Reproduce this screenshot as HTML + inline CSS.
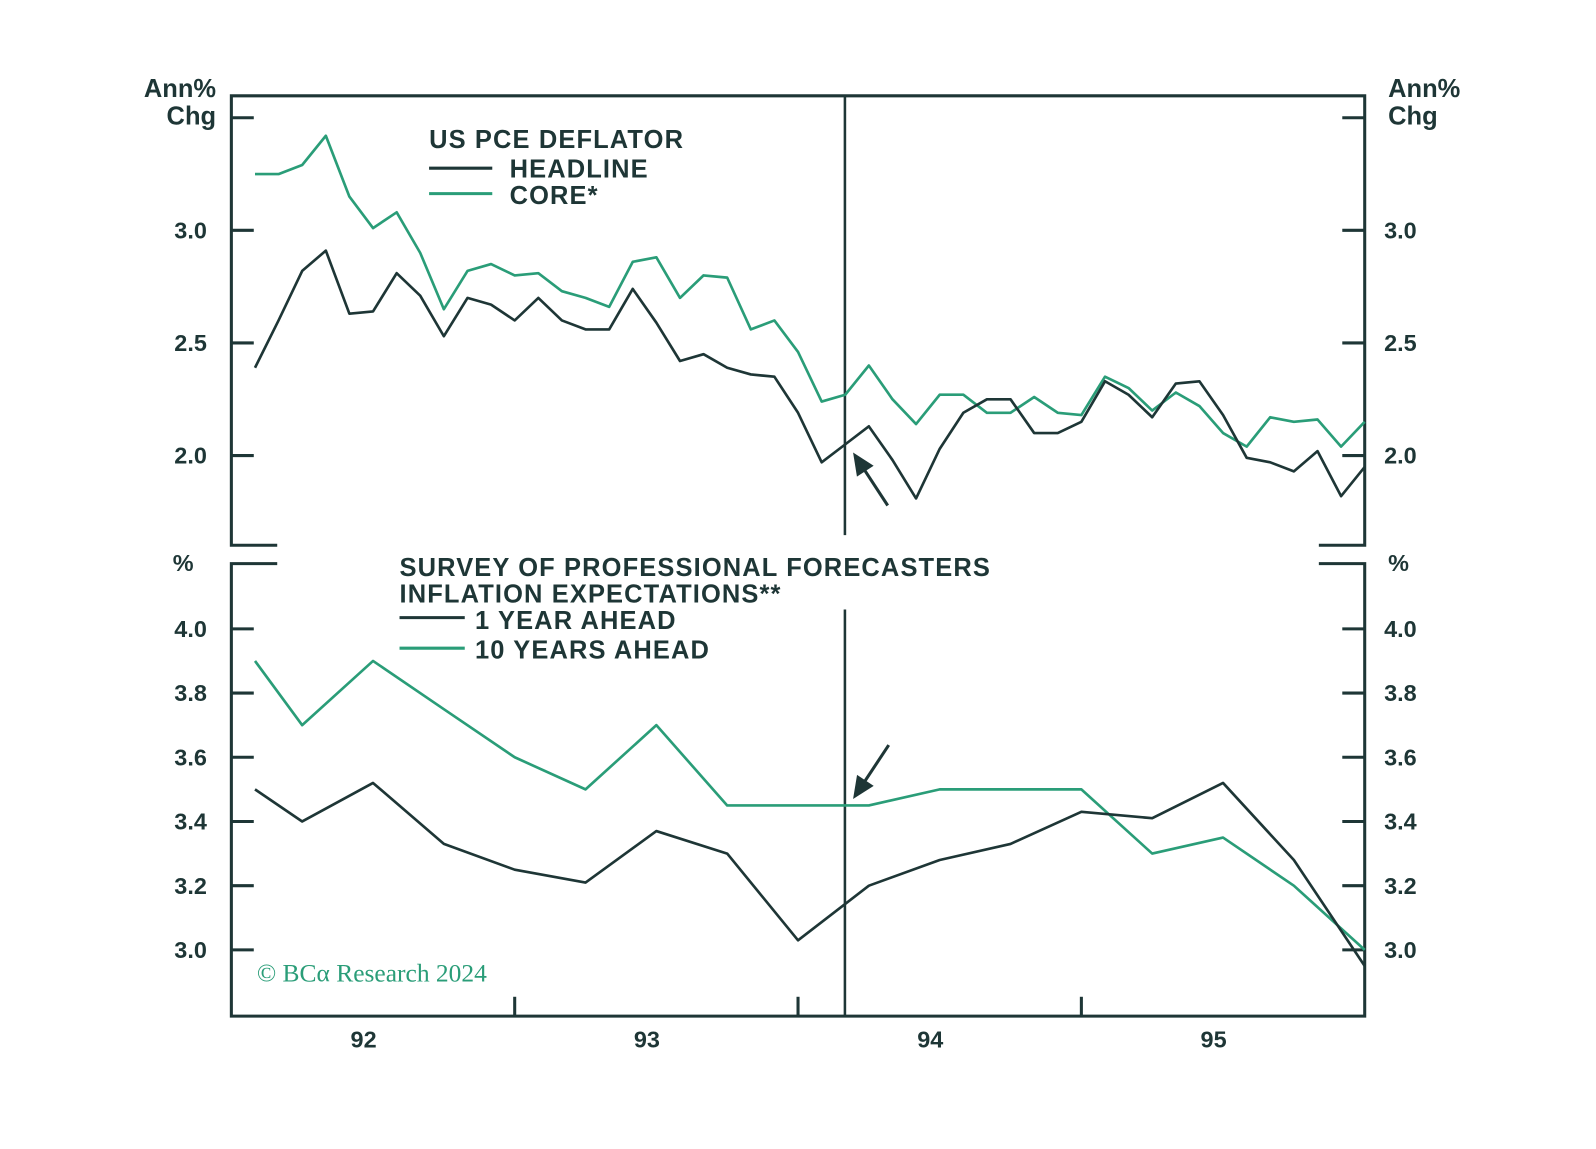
<!DOCTYPE html>
<html><head><meta charset="utf-8"><style>
body{margin:0;background:#fff}
svg text{font-family:"Liberation Sans",sans-serif;font-weight:bold;fill:#1e3636}
.lg{letter-spacing:1.1px}
</style></head><body>
<svg id="chart" width="1596" height="1144" xmlns="http://www.w3.org/2000/svg">
<g id="g" transform="scale(1.0192)"></g>
</svg>
<script>
const months = [1,2,3,4,5,6,7,8,9,10,11,12,13,14,15,16,17,18,19,20,21,22,23,24,25,26,27,28,29,30,31,32,33,34,35,36,37,38,39,40,41,42,43,44,45,46,47,48];
const headline = [2.39,2.6,2.82,2.91,2.63,2.64,2.81,2.71,2.53,2.70,2.67,2.60,2.70,2.60,2.56,2.56,2.74,2.59,2.42,2.45,2.39,2.36,2.35,2.19,1.97,2.05,2.13,1.98,1.81,2.03,2.19,2.25,2.25,2.10,2.10,2.15,2.33,2.27,2.17,2.32,2.33,2.18,1.99,1.97,1.93,2.02,1.82,1.95];
const core = [3.25,3.25,3.29,3.42,3.15,3.01,3.08,2.90,2.65,2.82,2.85,2.80,2.81,2.73,2.70,2.66,2.86,2.88,2.70,2.80,2.79,2.56,2.60,2.46,2.24,2.27,2.40,2.25,2.14,2.27,2.27,2.19,2.19,2.26,2.19,2.18,2.35,2.30,2.20,2.28,2.22,2.10,2.04,2.17,2.15,2.16,2.04,2.15];
const quarters = [1,3,6,9,12,15,18,21,24,27,30,33,36,39,42,45,48];
const oneYear = [3.50,3.40,3.52,3.33,3.25,3.21,3.37,3.30,3.03,3.20,3.28,3.33,3.43,3.41,3.52,3.28,2.95];
const tenYear = [3.90,3.70,3.90,3.75,3.60,3.50,3.70,3.45,3.45,3.45,3.50,3.50,3.50,3.30,3.35,3.20,3.00];
const topTicks = ["2.0","2.5","3.0"];
const botTicks = ["3.0","3.2","3.4","3.6","3.8","4.0"];
const yearLabels = ["92","93","94","95"];

const L=227,R=1339,DARK="#1e3636",GREEN="#2a9d78";
const x=m=>L+(R-L)*m/48;
const yT=v=>226+(3.0-v)*221;
const yB=v=>932-(v-3.0)*315;
const g=document.getElementById('g');
const NS="http://www.w3.org/2000/svg";
function mk(tag,attrs,parent){const e=document.createElementNS(NS,tag);for(const k in attrs)e.setAttribute(k,attrs[k]);(parent||g).appendChild(e);return e;}
function txt(s,attrs){const e=mk('text',attrs);e.textContent=s;return e;}

let e;
e=mk('path',{d:`M272 535 H${L} V94 H${R} V535 H1294`,fill:'none',stroke:DARK,'stroke-width':3});


e=mk('path',{d:`M272 553 H${L} V997 H${R} V553 H1294`,fill:'none',stroke:DARK,'stroke-width':3});


[...topTicks,"3.5"].forEach(t=>{const v=parseFloat(t);const yy=yT(v);
 e=mk('line',{x1:L,x2:L+22,y1:yy,y2:yy,stroke:DARK,'stroke-width':3});
 
 
 e=mk('line',{x1:R-22,x2:R,y1:yy,y2:yy,stroke:DARK,'stroke-width':3});
 
 
});
topTicks.forEach(t=>{const yy=yT(parseFloat(t))+8;
 e=txt(t,{x:203,y:yy,'text-anchor':'end','font-size':23});
 
 
 e=txt(t,{x:1358,y:yy,'font-size':23});
 
 
});
botTicks.forEach(t=>{const yy=yB(parseFloat(t));
 e=mk('line',{x1:L,x2:L+22,y1:yy,y2:yy,stroke:DARK,'stroke-width':3});
 
 
 e=mk('line',{x1:R-22,x2:R,y1:yy,y2:yy,stroke:DARK,'stroke-width':3});
 
 
 e=txt(t,{x:203,y:yy+8,'text-anchor':'end','font-size':23});
 
 
 e=txt(t,{x:1358,y:yy+8,'font-size':23});
 
 
});
[12,24,36].forEach(m=>{e=mk('line',{x1:x(m),x2:x(m),y1:997,y2:978,stroke:DARK,'stroke-width':3});
 
 });
yearLabels.forEach((s,i)=>{e=txt(s,{x:x(5.6+12*i),y:1028,'text-anchor':'middle','font-size':23});
 
 });
[[94,525],[598,997]].forEach(p=>{e=mk('line',{x1:829,x2:829,y1:p[0],y2:p[1],stroke:DARK,'stroke-width':2.5});
 
 });
[[95,'Ann%','end'],[122,'Chg','end'],[95,'Ann%','start'],[122,'Chg','start']].forEach(a=>{
 e=txt(a[1],{x:a[2]=='end'?212:1362,y:a[0],'text-anchor':a[2],'font-size':25});
 
 });
e=txt('%',{x:190,y:560,'text-anchor':'end','font-size':23});


e=txt('%',{x:1362,y:560,'font-size':23});


function line(xs,ys,xf,yf,color,name){const d=xs.map((m,i)=>(i?'L':'M')+xf(m).toFixed(1)+' '+yf(ys[i]).toFixed(1)).join(' ');
 const p=mk('path',{d,fill:'none',stroke:color,'stroke-width':2.6,'stroke-linejoin':'round'});
 
 }
line(months,core,x,yT,GREEN,'core-line');
line(months,headline,x,yT,DARK,'headline-line');
line(quarters,tenYear,x,yB,GREEN,'ten-year-line');
line(quarters,oneYear,x,yB,DARK,'one-year-line');
function leg(s,xx,yy,name){e=txt(s,{x:xx,y:yy,'font-size':25,'class':'lg'});}
leg('US PCE DEFLATOR',421,145,'top-legend-title');
leg('HEADLINE',500,174,'legend-headline');
leg('CORE*',500,200,'legend-core');
e=mk('line',{x1:421,x2:483,y1:165,y2:165,stroke:DARK,'stroke-width':3});
e=mk('line',{x1:421,x2:483,y1:190,y2:190,stroke:GREEN,'stroke-width':3});
leg('SURVEY OF PROFESSIONAL FORECASTERS',392,565,'bottom-legend-title');
leg('INFLATION EXPECTATIONS**',392,591,'bottom-legend-subtitle');
leg('1 YEAR AHEAD',466,617,'legend-one-year');
leg('10 YEARS AHEAD',466,646,'legend-ten-year');
e=mk('line',{x1:392,x2:456,y1:606,y2:606,stroke:DARK,'stroke-width':3});
e=mk('line',{x1:392,x2:456,y1:636,y2:636,stroke:GREEN,'stroke-width':3});
function arrow(x1,y1,x2,y2,name){const a=Math.atan2(y2-y1,x2-x1),h=24,w=0.42;
 const gp=mk('g',{});
 mk('line',{x1,y1,x2:x2-Math.cos(a)*14,y2:y2-Math.sin(a)*14,stroke:DARK,'stroke-width':3},gp);
 mk('polygon',{points:`${x2},${y2} ${x2-h*Math.cos(a-w)},${y2-h*Math.sin(a-w)} ${x2-h*Math.cos(a+w)},${y2-h*Math.sin(a+w)}`,fill:DARK},gp);}
arrow(871,496,837,444,'top-arrow');
arrow(872,731,837,784,'bottom-arrow');
e=txt('© BCα Research 2024',{x:252,y:963,'font-size':25,style:'font-family:"Liberation Serif",serif;font-weight:normal;fill:'+GREEN});


</script>
</body></html>
